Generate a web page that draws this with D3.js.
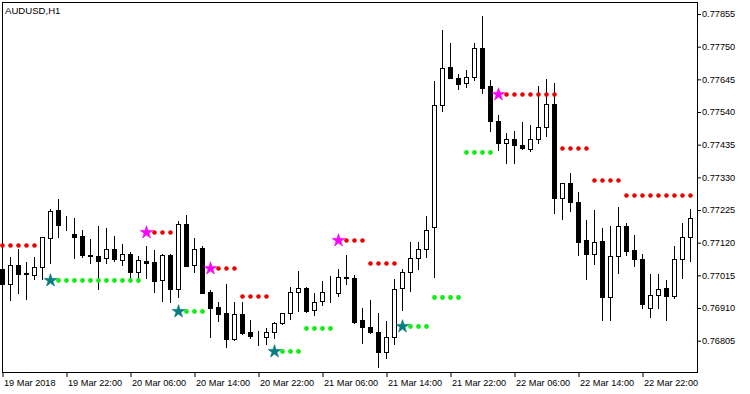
<!DOCTYPE html>
<html><head><meta charset="utf-8">
<script src="https://cdn.jsdelivr.net/npm/d3@7"></script>
<style>
html,body{margin:0;padding:0;background:#fff;}
svg{display:block;}
text{font-family:"Liberation Sans",Arial,sans-serif;}
</style></head><body>
<svg id="chart" width="750" height="394"></svg>
<script>
const _ = null;
const symbolTitle = "AUDUSD,H1";
const xTickIndex = [0, 8, 16, 24, 32, 40, 48, 56, 64, 72, 80];
const xTickLabels = ["19 Mar 2018", "19 Mar 22:00", "20 Mar 06:00", "20 Mar 14:00", "20 Mar 22:00",
  "21 Mar 06:00", "21 Mar 14:00", "21 Mar 22:00", "22 Mar 06:00", "22 Mar 14:00", "22 Mar 22:00"];
const yTicks = [0.77855, 0.77750, 0.77645, 0.77540, 0.77435, 0.77330, 0.77225, 0.77120, 0.77015, 0.76910, 0.76805];

const open = [
  0.77035, 0.76986, 0.77047, 0.77021, 0.77017, 0.77041, 0.77134, 0.77225, 0.77174, 0.77148,
  0.77141, 0.77079, 0.77077, 0.77070, 0.77100, 0.77063, 0.77084, 0.77027, 0.77061, 0.77058,
  0.76999, 0.77080, 0.76970, 0.77179, 0.77048, 0.77104, 0.76962, 0.76913, 0.76894, 0.76809,
  0.76891, 0.76832, 0.76823, 0.76816, 0.76832, 0.76861, 0.76893, 0.76960, 0.76973, 0.76903,
  0.76932, 0.76959, 0.76957, 0.77010, 0.77005, 0.76870, 0.76848, 0.76832, 0.76769, 0.76816,
  0.76973, 0.77027, 0.77070, 0.77099, 0.77171, 0.77562, 0.77685, 0.77648, 0.77632, 0.77651,
  0.77745, 0.77624, 0.77511, 0.77439, 0.77452, 0.77433, 0.77422, 0.77452, 0.77491, 0.77565,
  0.77265, 0.77311, 0.77252, 0.77128, 0.77085, 0.77125, 0.76944, 0.77076, 0.77174, 0.77096,
  0.77067, 0.76909, 0.76951, 0.76973, 0.76950, 0.77067, 0.77139];
const high = [
  0.77058, 0.77074, 0.77100, 0.77058, 0.77075, 0.77138, 0.77228, 0.77259, 0.77207, 0.77198,
  0.77161, 0.77131, 0.77174, 0.77166, 0.77141, 0.77116, 0.77091, 0.77077, 0.77109, 0.77096,
  0.77084, 0.77083, 0.77191, 0.77209, 0.77134, 0.77110, 0.76968, 0.76930, 0.76986, 0.76930,
  0.76930, 0.76871, 0.76836, 0.76845, 0.76866, 0.76894, 0.76977, 0.77029, 0.76978, 0.76957,
  0.76997, 0.77014, 0.77034, 0.77080, 0.77016, 0.76909, 0.76936, 0.76893, 0.76868, 0.77002,
  0.77034, 0.77121, 0.77121, 0.77207, 0.77641, 0.77804, 0.77763, 0.77662, 0.77675, 0.77763,
  0.77849, 0.77643, 0.77530, 0.77471, 0.77479, 0.77508, 0.77497, 0.77624, 0.77646, 0.77634,
  0.77313, 0.77343, 0.77282, 0.77194, 0.77225, 0.77166, 0.77174, 0.77234, 0.77182, 0.77145,
  0.77084, 0.77019, 0.77019, 0.77000, 0.77109, 0.77184, 0.77227];
const low = [
  0.76971, 0.76935, 0.76959, 0.76938, 0.77004, 0.77004, 0.77054, 0.77139, 0.77161, 0.77072,
  0.77073, 0.77054, 0.76970, 0.77054, 0.77061, 0.77048, 0.77005, 0.76993, 0.77007, 0.76962,
  0.76933, 0.76930, 0.76946, 0.77045, 0.77027, 0.76957, 0.76818, 0.76868, 0.76786, 0.76807,
  0.76825, 0.76813, 0.76791, 0.76796, 0.76815, 0.76860, 0.76874, 0.76901, 0.76898, 0.76887,
  0.76920, 0.76930, 0.76949, 0.76987, 0.76863, 0.76798, 0.76829, 0.76721, 0.76750, 0.76793,
  0.76904, 0.76966, 0.77034, 0.77075, 0.77011, 0.77544, 0.77649, 0.77613, 0.77621, 0.77643,
  0.77600, 0.77480, 0.77418, 0.77377, 0.77377, 0.77420, 0.77416, 0.77441, 0.77464, 0.77214,
  0.77195, 0.77223, 0.77080, 0.77003, 0.77051, 0.76871, 0.76871, 0.77021, 0.77080, 0.77046,
  0.76911, 0.76880, 0.76909, 0.76871, 0.76941, 0.77007, 0.77062];
const close = [
  0.76988, 0.77047, 0.77020, 0.77019, 0.77041, 0.77137, 0.77222, 0.77176, 0.77173, 0.77139,
  0.77080, 0.77077, 0.77062, 0.77100, 0.77067, 0.77083, 0.77027, 0.77063, 0.77054, 0.76998,
  0.77080, 0.76970, 0.77179, 0.77046, 0.77100, 0.76959, 0.76911, 0.76892, 0.76809, 0.76891,
  0.76831, 0.76821, 0.76822, 0.76832, 0.76861, 0.76893, 0.76960, 0.76973, 0.76900, 0.76928,
  0.76960, 0.76958, 0.77009, 0.77005, 0.76866, 0.76848, 0.76832, 0.76769, 0.76816, 0.76970,
  0.77027, 0.77070, 0.77099, 0.77161, 0.77562, 0.77680, 0.77650, 0.77631, 0.77651, 0.77745,
  0.77618, 0.77512, 0.77439, 0.77452, 0.77433, 0.77425, 0.77452, 0.77491, 0.77565, 0.77263,
  0.77311, 0.77252, 0.77123, 0.77085, 0.77121, 0.76944, 0.77076, 0.77174, 0.77094, 0.77067,
  0.76922, 0.76951, 0.76970, 0.76950, 0.77067, 0.77137, 0.77198];

// red dotted resistance levels (one value per bar)
const resistance = [
  0.77111, 0.77111, 0.77111, 0.77111, 0.77111, _, _, _, _, _,
  _, _, _, _, _, _, _, _, _, 0.77153,
  0.77153, 0.77153, _, _, _, _, _, 0.77038, 0.77038, 0.77038,
  0.76949, 0.76949, 0.76949, 0.76949, _, _, _, _, _, _,
  _, _, _, 0.77129, 0.77129, 0.77129, 0.77054, 0.77054, 0.77054, 0.77054,
  _, _, _, _, _, _, _, _, _, _,
  _, _, _, 0.77597, 0.77597, 0.77597, 0.77597, 0.77597, 0.77597, 0.77597,
  0.77423, 0.77423, 0.77423, 0.77423, 0.77320, 0.77320, 0.77320, 0.77320, 0.77273, 0.77273,
  0.77273, 0.77273, 0.77273, 0.77273, 0.77273, 0.77273, 0.77273];
// green dotted support levels (one value per bar)
const support = [
  _, _, _, _, _, _, _, 0.76999, 0.76999, 0.76999,
  0.76999, 0.76999, 0.76999, 0.76999, 0.76999, 0.76999, 0.76999, 0.76999, _, _,
  _, _, _, 0.76900, 0.76900, 0.76900, _, _, _, _,
  _, _, _, _, _, 0.76772, 0.76772, 0.76772, 0.76845, 0.76845,
  0.76845, 0.76845, _, _, _, _, _, _, _, _,
  _, 0.76852, 0.76852, 0.76852, 0.76945, 0.76945, 0.76945, 0.76945, 0.77410, 0.77410,
  0.77410, 0.77410, _, _, _, _, _, _, _, _,
  _, _, _, _, _, _, _, _, _, _,
  _, _, _, _, _, _, _];
// star signals
const sellSignalBar = [18, 26, 42, 62];
const sellSignalPrice = [0.77153, 0.77038, 0.77129, 0.77597];
const buySignalBar = [6, 22, 34, 50];
const buySignalPrice = [0.76999, 0.76900, 0.76772, 0.76852];

const svg = d3.select("#chart");
const x = d3.scaleLinear().domain([0, 86]).range([2, 690]);
const y = d3.scaleLinear().domain([0.76805, 0.77855]).range([340.7, 14]);
const bars = d3.range(open.length);

svg.append("rect").attr("width", 750).attr("height", 394).attr("fill", "#fff");

// candles
const cg = svg.append("g");
cg.selectAll("line.wick").data(bars).join("line")
  .attr("class", "wick")
  .attr("x1", i => Math.round(x(i)) + 0.5).attr("x2", i => Math.round(x(i)) + 0.5)
  .attr("y1", i => Math.round(y(high[i]))).attr("y2", i => Math.round(y(low[i])) + 1)
  .attr("stroke", "#000").attr("stroke-width", 1);
cg.selectAll("rect.body").data(bars).join("rect")
  .attr("class", "body")
  .attr("x", i => Math.round(x(i)) - 1.5)
  .attr("width", 4)
  .attr("y", i => Math.round(y(Math.max(open[i], close[i]))) + 0.5)
  .attr("height", i => Math.abs(Math.round(y(open[i])) - Math.round(y(close[i]))))
  .attr("fill", i => close[i] > open[i] ? "#fff" : "#000")
  .attr("stroke", "#000").attr("stroke-width", 1);

// frame
svg.append("rect").attr("x", 2.5).attr("y", 2.5).attr("width", 695).attr("height", 370)
  .attr("fill", "none").attr("stroke", "#000").attr("stroke-width", 1);

// indicator dots
const ig = svg.append("g");
ig.selectAll("circle.res").data(bars.filter(i => resistance[i] !== null)).join("circle")
  .attr("class", "res")
  .attr("cx", i => Math.round(x(i)) + 0.5).attr("cy", i => Math.round(y(resistance[i])) + 0.5)
  .attr("r", 2.3).attr("fill", "#ee0000");
ig.selectAll("circle.sup").data(bars.filter(i => support[i] !== null)).join("circle")
  .attr("class", "sup")
  .attr("cx", i => Math.round(x(i)) + 0.5).attr("cy", i => Math.round(y(support[i])) + 0.5)
  .attr("r", 2.4).attr("fill", "#11ee11");

const star = d3.symbol().type(d3.symbolStar).size(52);
ig.selectAll("path.sell").data(d3.range(sellSignalBar.length)).join("path")
  .attr("class", "sell")
  .attr("transform", j => `translate(${Math.round(x(sellSignalBar[j])) + 0.5},${Math.round(y(sellSignalPrice[j])) + 0.5})`)
  .attr("d", star).attr("fill", "#ff00ff").attr("stroke", "#e010e0").attr("stroke-width", 0.6);
ig.selectAll("path.buy").data(d3.range(buySignalBar.length)).join("path")
  .attr("class", "buy")
  .attr("transform", j => `translate(${Math.round(x(buySignalBar[j])) + 0.5},${Math.round(y(buySignalPrice[j])) + 0.5})`)
  .attr("d", star).attr("fill", "#008080").attr("stroke", "#0a7070").attr("stroke-width", 0.6);

// axes
const yAxis = d3.axisRight(y).tickValues(yTicks).tickSize(4).tickPadding(1)
  .tickFormat(d3.format(".5f"));
const ya = svg.append("g").attr("transform", "translate(697,0)").call(yAxis);
ya.select(".domain").remove();
ya.selectAll("text").attr("font-size", "9.2px").attr("fill", "#000").attr("font-family", "Liberation Sans, Arial, sans-serif");
ya.selectAll("line").attr("stroke", "#000");

const xAxis = d3.axisBottom(x).tickValues(xTickIndex).tickSize(5).tickPadding(2)
  .tickFormat((d, k) => xTickLabels[k]);
const xa = svg.append("g").attr("transform", "translate(0.5,372)").call(xAxis);
xa.select(".domain").remove();
xa.selectAll("text").attr("text-anchor", "start").attr("dx", 1)
  .attr("font-size", "9.2px").attr("fill", "#000").attr("font-family", "Liberation Sans, Arial, sans-serif");
xa.selectAll("line").attr("stroke", "#000");

svg.append("text").attr("x", 5).attr("y", 14).attr("font-size", "9.6px").attr("fill", "#000")
  .text(symbolTitle);
</script>
</body></html>
